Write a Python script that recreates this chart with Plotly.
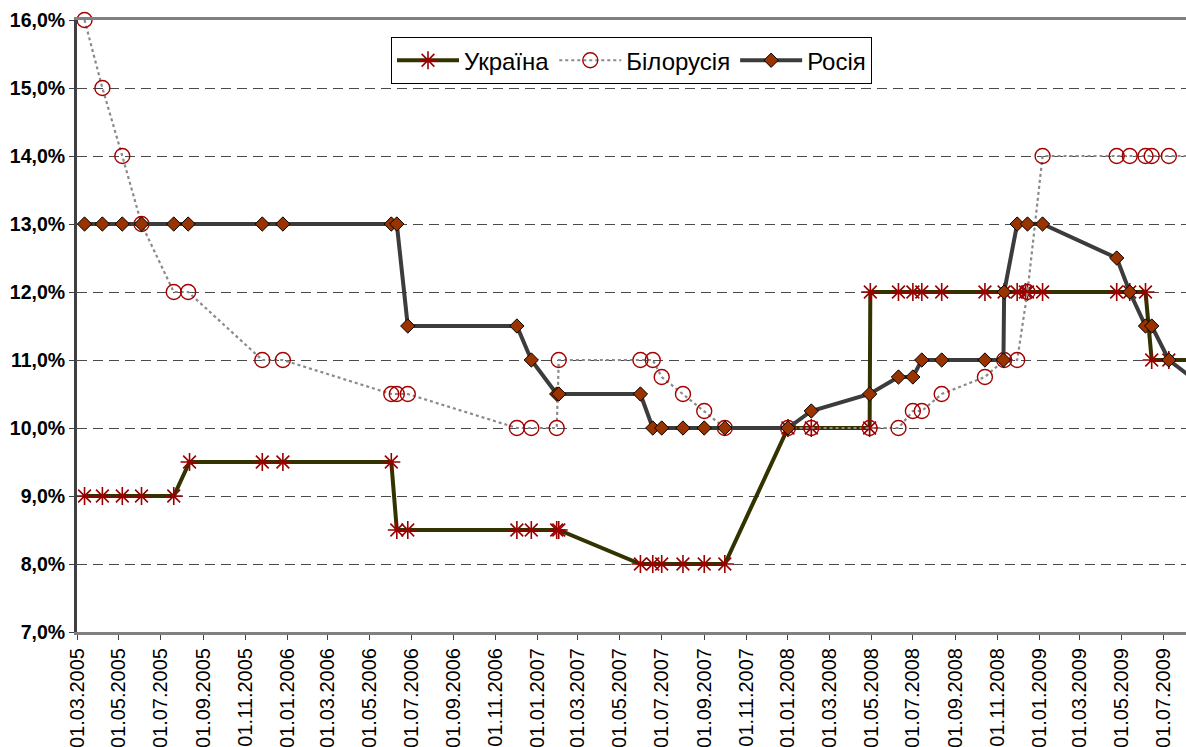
import plotly.graph_objects as go

# ---- data -------------------------------------------------------------
ukraine_dates = [
    "2005-03-12", "2005-04-07", "2005-05-06", "2005-06-03", "2005-07-20",
    "2005-08-12", "2005-11-26", "2005-12-26", "2006-06-02", "2006-06-10",
    "2006-06-26", "2006-12-02", "2006-12-23", "2007-01-29", "2007-02-01",
    "2007-05-31", "2007-06-18", "2007-07-01", "2007-08-01", "2007-09-01",
    "2007-10-01", "2008-01-01", "2008-02-04", "2008-04-29", "2008-04-30",
    "2008-06-10", "2008-07-01", "2008-07-14", "2008-08-12", "2008-10-14",
    "2008-11-11", "2008-11-30", "2008-12-12", "2008-12-15", "2009-01-06",
    "2009-04-24", "2009-05-13", "2009-06-05", "2009-06-14", "2009-07-09",
    "2009-08-08", "2009-08-12",
]
ukraine_values = [
    9.0, 9.0, 9.0, 9.0, 9.0,
    9.5, 9.5, 9.5, 9.5, 8.5,
    8.5, 8.5, 8.5, 8.5, 8.5,
    8.0, 8.0, 8.0, 8.0, 8.0,
    8.0, 10.0, 10.0, 10.0, 12.0,
    12.0, 12.0, 12.0, 12.0, 12.0,
    12.0, 12.0, 12.0, 12.0, 12.0,
    12.0, 12.0, 12.0, 11.0, 11.0,
    11.0, 10.25,
]

belarus_dates = [
    "2005-03-12", "2005-04-07", "2005-05-06", "2005-06-03", "2005-07-20",
    "2005-08-10", "2005-11-26", "2005-12-26", "2006-06-02", "2006-06-10",
    "2006-06-26", "2006-12-02", "2006-12-23", "2007-01-29", "2007-02-01",
    "2007-05-31", "2007-06-18", "2007-07-01", "2007-08-01", "2007-09-01",
    "2007-10-01", "2008-01-01", "2008-02-04", "2008-04-29", "2008-06-10",
    "2008-07-01", "2008-07-14", "2008-08-12", "2008-10-14", "2008-11-11",
    "2008-11-30", "2008-12-15", "2009-01-06", "2009-04-24", "2009-05-13",
    "2009-06-05", "2009-06-14", "2009-07-09", "2009-08-08",
]
belarus_values = [
    16.0, 15.0, 14.0, 13.0, 12.0,
    12.0, 11.0, 11.0, 10.5, 10.5,
    10.5, 10.0, 10.0, 10.0, 11.0,
    11.0, 11.0, 10.75, 10.5, 10.25,
    10.0, 10.0, 10.0, 10.0, 10.0,
    10.25, 10.25, 10.5, 10.75, 11.0,
    11.0, 12.0, 14.0, 14.0, 14.0,
    14.0, 14.0, 14.0, 14.0,
]

russia_dates = [
    "2005-03-12", "2005-04-07", "2005-05-06", "2005-06-03", "2005-07-20",
    "2005-08-10", "2005-11-26", "2005-12-26", "2006-06-02", "2006-06-10",
    "2006-06-26", "2006-12-02", "2006-12-23", "2007-01-29", "2007-02-01",
    "2007-05-31", "2007-06-18", "2007-07-01", "2007-08-01", "2007-09-01",
    "2007-10-01", "2008-01-01", "2008-02-04", "2008-04-29", "2008-06-10",
    "2008-07-01", "2008-07-14", "2008-08-12", "2008-10-14", "2008-11-10",
    "2008-11-11", "2008-11-30", "2008-12-15", "2009-01-06", "2009-04-24",
    "2009-05-13", "2009-06-05", "2009-06-14", "2009-07-09", "2009-08-10",
]
russia_values = [
    13.0, 13.0, 13.0, 13.0, 13.0,
    13.0, 13.0, 13.0, 13.0, 13.0,
    11.5, 11.5, 11.0, 10.5, 10.5,
    10.5, 10.0, 10.0, 10.0, 10.0,
    10.0, 10.0, 10.25, 10.5, 10.75,
    10.75, 11.0, 11.0, 11.0, 11.0,
    12.0, 13.0, 13.0, 13.0, 12.5,
    12.0, 11.5, 11.5, 11.0, 10.75,
]

series_names = ["Україна", "Білорусія", "Росія"]

x_tick_dates = [
    "2005-03-01", "2005-05-01", "2005-07-01", "2005-09-01", "2005-11-01",
    "2006-01-01", "2006-03-01", "2006-05-01", "2006-07-01", "2006-09-01",
    "2006-11-01", "2007-01-01", "2007-03-01", "2007-05-01", "2007-07-01",
    "2007-09-01", "2007-11-01", "2008-01-01", "2008-03-01", "2008-05-01",
    "2008-07-01", "2008-09-01", "2008-11-01", "2009-01-01", "2009-03-01",
    "2009-05-01", "2009-07-01",
]
x_tick_labels = [
    "01.03.2005", "01.05.2005", "01.07.2005", "01.09.2005", "01.11.2005",
    "01.01.2006", "01.03.2006", "01.05.2006", "01.07.2006", "01.09.2006",
    "01.11.2006", "01.01.2007", "01.03.2007", "01.05.2007", "01.07.2007",
    "01.09.2007", "01.11.2007", "01.01.2008", "01.03.2008", "01.05.2008",
    "01.07.2008", "01.09.2008", "01.11.2008", "01.01.2009", "01.03.2009",
    "01.05.2009", "01.07.2009",
]
y_tick_values = [7, 8, 9, 10, 11, 12, 13, 14, 15, 16]
y_tick_labels = ["7,0%", "8,0%", "9,0%", "10,0%", "11,0%", "12,0%",
                 "13,0%", "14,0%", "15,0%", "16,0%"]

# ---- figure -----------------------------------------------------------
FONT = "Liberation Sans, Arial, sans-serif"

fig = go.Figure()

fig.add_trace(go.Scatter(
    x=ukraine_dates, y=ukraine_values, name=series_names[0],
    mode="lines+markers", cliponaxis=False,
    line=dict(color="#333300", width=4),
    marker=dict(symbol="asterisk-open", size=15,
                line=dict(color="#990000", width=1.6), color="#990000"),
))
fig.add_trace(go.Scatter(
    x=belarus_dates, y=belarus_values, name=series_names[1],
    mode="lines+markers", cliponaxis=False,
    line=dict(color="#8a8a8a", width=2.2, dash="dot"),
    marker=dict(symbol="circle-open", size=15,
                line=dict(color="#A50000", width=1.4), color="#A50000"),
))
fig.add_trace(go.Scatter(
    x=russia_dates, y=russia_values, name=series_names[2],
    mode="lines+markers", cliponaxis=False,
    line=dict(color="#3c3c3c", width=4),
    marker=dict(symbol="diamond", size=11, color="#993300",
                line=dict(color="#000000", width=1)),
))

fig.update_layout(
    width=1186, height=747,
    margin=dict(l=77, r=0, t=20, b=115, autoexpand=False),
    paper_bgcolor="white", plot_bgcolor="white",
    font=dict(family=FONT, size=20, color="black"),
    showlegend=True,
    legend=dict(
        orientation="h", x=0.5, xanchor="center", y=0.972, yanchor="top",
        bgcolor="white", bordercolor="black", borderwidth=1,
        font=dict(family=FONT, size=24, color="black"),
        itemwidth=62, tracegroupgap=0,
    ),
    xaxis=dict(
        type="date", range=["2005-03-01", "2009-08-03"],
        tickvals=x_tick_dates, ticktext=x_tick_labels, tickangle=-90,
        tickfont=dict(family=FONT, size=20, color="black"),
        showgrid=False, zeroline=False, automargin=False,
        showline=True, linecolor="#808080", linewidth=3, mirror=True,
        ticks="outside", ticklen=5, tickcolor="#404040", tickwidth=1,
    ),
    yaxis=dict(
        range=[7, 16], tickvals=y_tick_values, ticktext=y_tick_labels,
        tickfont=dict(family=FONT, size=19.5, color="black", weight="bold"),
        showgrid=True, gridcolor="#4a4a4a", gridwidth=1.3, griddash="10px,6px",
        zeroline=False, automargin=False,
        showline=True, linecolor="#404040", linewidth=3,
        ticks="outside", ticklen=5, tickcolor="#404040", tickwidth=1,
        ticklabelstandoff=0,
    ),
)

fig.write_html(
    "out.html",
    config={"displayModeBar": False},
    post_script="document.body.style.margin='0px';document.body.style.overflow='hidden';",
)
